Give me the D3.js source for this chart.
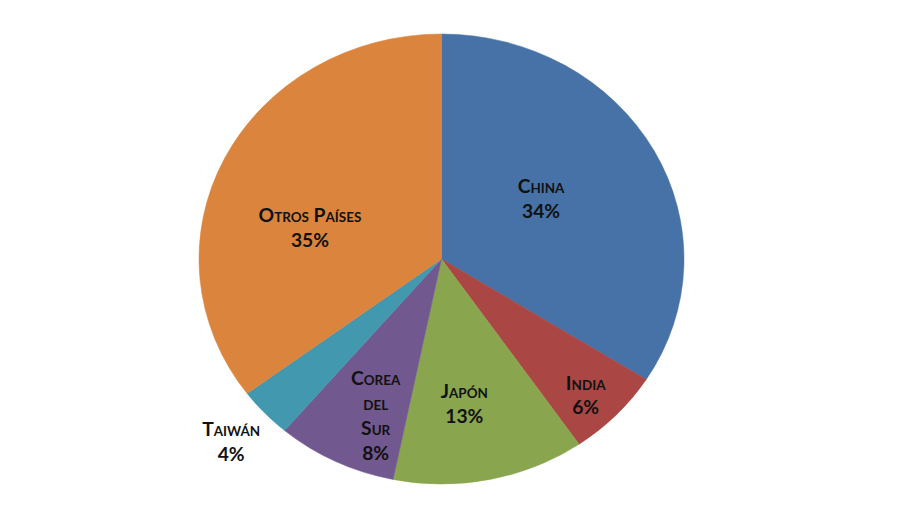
<!DOCTYPE html>
<html>
<head>
<meta charset="utf-8">
<script src="https://cdn.jsdelivr.net/npm/d3@7"></script>
<style>
  html, body { margin: 0; padding: 0; background: #fff; }
  svg { display: block; }
  .lbl { font-family: Lato, "Open Sans", sans-serif; font-weight: 700; font-variant: small-caps; fill: #111; }
</style>
</head>
<body>
<svg id="chart" width="904" height="514"></svg>
<script>
// ---- data ----
const categories = ["China", "India", "Japón", "Corea del Sur", "Taiwán", "Otros Países"];
const labelLines = [["China"], ["India"], ["Japón"], ["Corea", "del", "Sur"], ["Taiwán"], ["Otros Países"]];
const shares = [34.0, 6.4, 12.8, 8.0, 3.6, 35.2];
const colors = ["#4672A8", "#AA4643", "#89A54E", "#71588F", "#4198AF", "#DB843D"];
// label placement (fraction of radius, angular nudge in degrees from slice bisector)
const labelRadius = [0.49, 0.85, 0.65, 0.75, 1.19, 0.56];
const labelNudge = [-4.3, 1.7, 3.2, -4.7, 0, -12.3];

// ---- layout ----
const W = 904, H = 514;
const cx = 441.5, cy = 259, rx = 242.5, ry = 225;
const fontSize = 18, lineH = 25;

const svg = d3.select("#chart");
const pie = d3.pie().sort(null).value(d => d)(shares);
const arc = d3.arc().innerRadius(0).outerRadius(ry);

const g = svg.append("g").attr("transform", `translate(${cx},${cy}) scale(${rx / ry},1)`);
g.selectAll("path").data(pie).join("path")
  .attr("d", arc)
  .attr("fill", (d, i) => colors[i])
  .attr("stroke", (d, i) => colors[i])
  .attr("stroke-width", 0.5);

const labels = svg.append("g");
pie.forEach((d, i) => {
  const a = (d.startAngle + d.endAngle) / 2 + labelNudge[i] * Math.PI / 180;
  const x = cx + Math.sin(a) * rx * labelRadius[i];
  const y = cy - Math.cos(a) * ry * labelRadius[i];
  const lines = labelLines[i].concat([Math.round(shares[i]) + "%"]);
  const n = lines.length;
  const t = labels.append("text").attr("class", "lbl")
    .attr("text-anchor", "middle")
    .attr("font-size", fontSize)
    .attr("transform", `translate(${x},${y}) scale(1.07,1)`);
  lines.forEach((s, k) => {
    t.append("tspan").attr("x", 0)
      .attr("y", (k - (n - 1) / 2) * lineH + fontSize * 0.35)
      .text(s);
  });
});
</script>
</body>
</html>
